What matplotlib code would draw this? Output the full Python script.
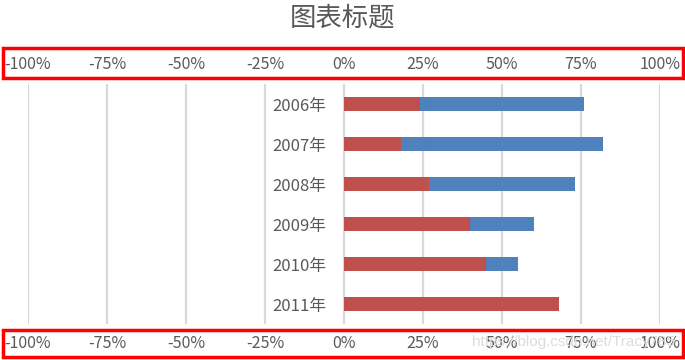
import numpy as np
import matplotlib
matplotlib.use('Agg')
import matplotlib.pyplot as plt
from matplotlib.patches import Rectangle
from matplotlib.ticker import FuncFormatter

plt.rcParams['font.family'] = ['Noto Sans CJK SC', 'DejaVu Sans']

# data (fractions of 100%)
years = ['2006年', '2007年', '2008年', '2009年', '2010年', '2011年']
red_values = [0.24, 0.18, 0.27, 0.40, 0.45, 0.68]
blue_values = [0.52, 0.64, 0.46, 0.20, 0.10, 0.00]
x_ticks = [-1.0, -0.75, -0.5, -0.25, 0.0, 0.25, 0.5, 0.75, 1.0]

text_color = '#595959'
grid_color = '#d9d9d9'

fig = plt.figure(figsize=(6.85, 3.6), dpi=100)
fig.patch.set_facecolor('white')
ax = fig.add_axes([28 / 685, 1 - 324 / 360, 632 / 685, 240 / 360])

y = np.arange(len(years))
ax.barh(y, red_values, height=0.35, color='#c0504d', zorder=3)
ax.barh(y, blue_values, left=red_values, height=0.35, color='#4f81bd', zorder=3)

ax.set_xlim(-1.0, 1.0)
ax.set_ylim(len(years) - 0.5, -0.5)
ax.set_xticks(x_ticks)
ax.xaxis.set_major_formatter(FuncFormatter(lambda v, p: '{:.0f}%'.format(v * 100)))
ax.set_yticks(y)
ax.set_yticklabels(years)

ax.grid(axis='x', color=grid_color, linewidth=1.6, zorder=0)
for s in ax.spines.values():
    s.set_visible(False)
ax.spines['left'].set_position(('data', 0))

ax.tick_params(axis='x', length=0, labeltop=True, labelbottom=True,
               labelsize=11.5, labelcolor=text_color, pad=8)
ax.tick_params(axis='y', length=0, labelsize=12, labelcolor=text_color, pad=13)

fig.text(0.5, 1 - 18 / 360, '图表标题', ha='center', va='center',
         fontsize=19, color=text_color)

# red highlight boxes around the two percentage axes
for y0, y1 in [(48, 78), (330, 357)]:
    fig.patches.append(Rectangle((3 / 685, 1 - y1 / 360), 680 / 685, (y1 - y0) / 360,
                                 transform=fig.transFigure, fill=False,
                                 edgecolor='#ff0000', linewidth=2.5))

# faint watermark
fig.text(472 / 685, 1 - 342 / 360, 'https://blog.csdn.net/Tracy785',
         ha='left', va='center', fontsize=11, color='#dcdcdc',
         family=['Liberation Sans', 'DejaVu Sans'], zorder=0)

fig.savefig('out.png', dpi=100, facecolor='white')
